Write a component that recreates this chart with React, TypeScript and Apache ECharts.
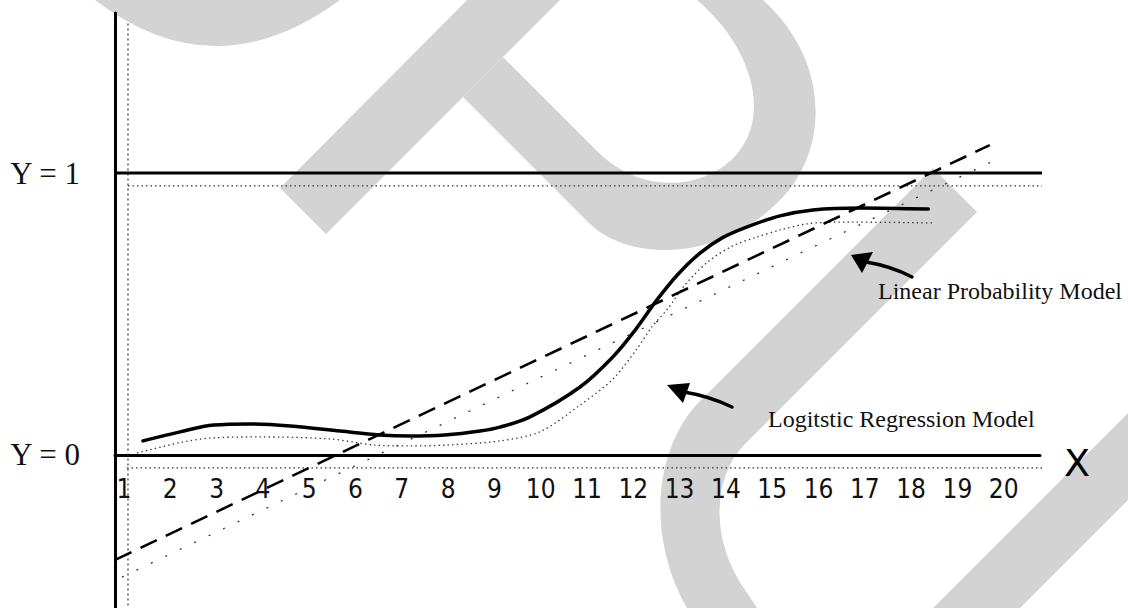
import React, { useEffect, useRef } from "react";
import * as echarts from "echarts";

// ---------- data ----------
const xTickValues = [1, 2, 3, 4, 5, 6, 7, 8, 9, 10, 11, 12, 13, 14, 15, 16, 17, 18, 19, 20];
const yTickValues = [0, 1];
const yTickLabels = ["Y = 0", "Y = 1"];
const xAxisName = "X";

const logisticModel: [number, number][] = [
  [1.41, 0.05], [2.21, 0.082], [2.94, 0.106], [3.72, 0.11], [4.59, 0.103],
  [5.67, 0.085], [6.51, 0.071], [7.18, 0.067], [7.93, 0.071], [8.69, 0.085],
  [9.12, 0.099], [9.77, 0.135], [10.85, 0.241], [11.56, 0.348], [12.04, 0.443],
  [12.51, 0.55], [12.97, 0.642], [13.44, 0.716], [13.92, 0.77], [14.46, 0.809],
  [15.17, 0.848], [15.88, 0.869], [16.9, 0.876], [18.37, 0.872],
];

const logisticTrace: [number, number][] = [
  [1.28, 0.007], [2.19, 0.043], [2.86, 0.06], [3.94, 0.064], [5.45, 0.057],
  [6.42, 0.035], [7.18, 0.032], [7.95, 0.035], [9.12, 0.05], [9.98, 0.082],
  [10.85, 0.177], [11.54, 0.266], [12.06, 0.372], [12.4, 0.454], [12.75, 0.52],
  [13.1, 0.6], [13.61, 0.685], [14.13, 0.74], [14.65, 0.772], [15.17, 0.798],
  [15.77, 0.82], [16.46, 0.826], [18.47, 0.823],
];

const linearModel: [number, number][] = [[0.81, -0.372], [19.7, 1.099]];
const linearTrace: [number, number][] = [[0.957, -0.433], [19.96, 1.057]];
const upperLimit: [number, number][] = [[0.827, 1], [20.83, 1]];
const upperTrace: [number, number][] = [[1.086, 0.954], [21.07, 0.954]];
const lowerTrace: [number, number][] = [[1.065, -0.046], [20.94, -0.046]];
const verticalTrace: [number, number][] = [[1.086, 1.53], [1.086, -0.543]];

const labelLinear = "Linear Probability Model";
const labelLogistic = "Logitstic Regression Model";

// ---------- decoration (background watermark) ----------
const WATERMARK: Record<string, string> = {
  wmArc: "M95,0 Q215,92 340,0 Z",
  wmSlash: "M467,0 L560,0 L326,234 L280,188 Z",
  wmLoop:
    "M503,57 L463,97 L590,224 C630,262 720,262 780,200 C830,150 830,60 763,0 L697,0 C750,45 770,110 740,150 C715,185 650,200 600,154 Z",
  wmC: "M933,168 L977,212 L745,444 C712,477 710,540 745,590 L764,618 L692,618 L680,595 C645,520 660,441 700,401 Z",
  wmBand: "M1140,401 L1140,488 L1010,618 L923,618 Z",
};
Object.keys(WATERMARK).forEach((k) => {
  echarts.graphic.registerShape(k, echarts.graphic.extendPath(WATERMARK[k], {}));
});

const SERIF = '"Liberation Serif", "Times New Roman", serif';
const SANS_NARROW = '"DejaVu Sans Condensed", "Liberation Sans Narrow", "DejaVu Sans", sans-serif';

const X_MIN = 0.8056;
const X_MAX = 20.784;

export default function App() {
  const ref = useRef<HTMLDivElement>(null);

  useEffect(() => {
    if (!ref.current) return;
    const chart = echarts.init(ref.current, undefined, { renderer: "svg" });

    const dotted = (data: [number, number][], dash: number[], width = 1.2, smooth: any = false) => ({
      type: "line",
      data,
      xAxisIndex: 0,
      yAxisIndex: 0,
      symbol: "none",
      smooth,
      clip: false,
      silent: true,
      lineStyle: { color: "#333", width, type: dash },
      z: 1,
    });

    const watermark = Object.keys(WATERMARK).map((k) => ({
      type: k,
      x: 0,
      y: 0,
      silent: true,
      z: -10,
      style: { fill: "#d3d3d3", stroke: null },
    }));

    const option: any = {
      animation: false,
      backgroundColor: "#ffffff",
      grid: [
        { left: 115, top: 13, width: 925, height: 595, containLabel: false, outerBoundsMode: "none" },
        { left: 115, top: 13, width: 925, height: 442, containLabel: false, outerBoundsMode: "none" },
      ],
      xAxis: [
        {
          type: "value",
          gridIndex: 0,
          min: X_MIN,
          max: X_MAX,
          name: xAxisName,
          nameLocation: "end",
          nameGap: 24,
          nameTextStyle: {
            fontSize: 38,
            fontFamily: '"DejaVu Sans", sans-serif',
            color: "#000",
            verticalAlign: "top",
            lineHeight: 16,
          },
          axisLine: { show: true, onZero: true, lineStyle: { color: "#000", width: 3 } },
          axisTick: { show: false },
          splitLine: { show: false },
          axisLabel: { show: false },
        },
        {
          type: "value",
          gridIndex: 1,
          position: "bottom",
          min: X_MIN,
          max: X_MAX,
          axisLine: { show: false, onZero: false },
          axisTick: { show: false },
          splitLine: { show: false },
          axisLabel: {
            customValues: xTickValues,
            margin: 21,
            fontSize: 26,
            fontFamily: SANS_NARROW,
            color: "#111",
            formatter: (v: number) => String(v),
          },
        },
      ],
      yAxis: [
        {
          type: "value",
          gridIndex: 0,
          min: -0.5426,
          max: 1.5674,
          axisLine: { show: true, onZero: false, lineStyle: { color: "#000", width: 3 } },
          axisTick: { show: false },
          splitLine: { show: false },
          axisLabel: {
            customValues: yTickValues,
            margin: 35,
            fontSize: 31,
            fontFamily: SERIF,
            color: "#111",
            formatter: (v: number) => {
              const i = yTickValues.indexOf(v);
              return i >= 0 ? yTickLabels[i] : "";
            },
          },
        },
        {
          type: "value",
          gridIndex: 1,
          min: 0,
          max: 1,
          show: false,
        },
      ],
      series: [
        dotted(verticalTrace, [2, 3]),
        dotted(upperTrace, [1.5, 3]),
        dotted(lowerTrace, [1.5, 3]),
        dotted(logisticTrace, [1.4, 3.2], 1.3, 0.3),
        dotted(linearTrace, [2, 14], 1.3),
        {
          type: "line",
          data: upperLimit,
          symbol: "none",
          clip: false,
          silent: true,
          lineStyle: { color: "#000", width: 3, type: "solid" },
          z: 3,
        },
        {
          type: "line",
          data: linearModel,
          symbol: "none",
          clip: false,
          silent: true,
          lineStyle: { color: "#000", width: 2.6, type: [18, 10] },
          z: 4,
        },
        {
          type: "line",
          data: logisticModel,
          symbol: "none",
          smooth: 0.35,
          clip: false,
          silent: true,
          lineStyle: { color: "#000", width: 3.5, type: "solid", cap: "round" },
          z: 5,
        },
      ],
      graphic: {
        elements: [
          ...watermark,
          {
            type: "bezierCurve",
            silent: true,
            z: 100,
            shape: { x1: 912, y1: 277, x2: 866, y2: 262, cpx1: 891, cpy1: 266 },
            style: { stroke: "#000", lineWidth: 3.5, fill: null, lineCap: "round" },
          },
          {
            type: "polygon",
            silent: true,
            z: 100,
            shape: { points: [[851, 255], [873, 252], [862, 273]] },
            style: { fill: "#000" },
          },
          {
            type: "bezierCurve",
            silent: true,
            z: 100,
            shape: { x1: 732, y1: 407, x2: 684, y2: 392, cpx1: 709, cpy1: 396 },
            style: { stroke: "#000", lineWidth: 3.5, fill: null, lineCap: "round" },
          },
          {
            type: "polygon",
            silent: true,
            z: 100,
            shape: { points: [[667, 385], [690, 383], [683, 403]] },
            style: { fill: "#000" },
          },
          {
            type: "text",
            silent: true,
            z: 100,
            x: 878,
            y: 291,
            style: { text: labelLinear, font: `24px ${SERIF}`, fill: "#111", align: "left", verticalAlign: "middle" },
          },
          {
            type: "text",
            silent: true,
            z: 100,
            x: 768,
            y: 419,
            style: { text: labelLogistic, font: `24px ${SERIF}`, fill: "#111", align: "left", verticalAlign: "middle" },
          },
        ],
      },
    };

    chart.setOption(option);
    return () => chart.dispose();
  }, []);

  return (
    <div
      ref={ref}
      style={{ position: "absolute", left: 0, top: 0, width: 1128, height: 608, background: "#fff" }}
    />
  );
}
